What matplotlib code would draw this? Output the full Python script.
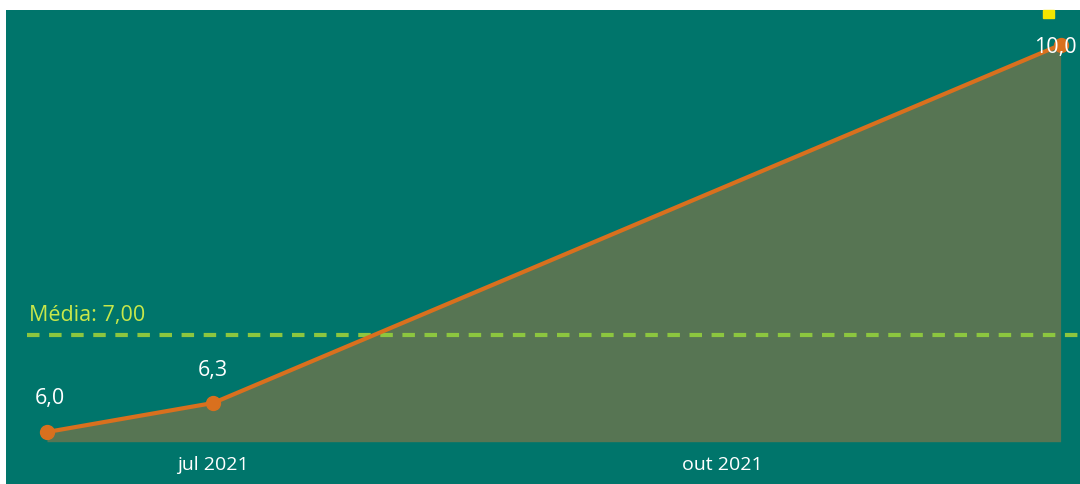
import matplotlib
matplotlib.use("Agg")
import matplotlib.pyplot as plt
import matplotlib.dates as mdates
from matplotlib.patches import Rectangle
from datetime import date

# dados
datas = [date(2021, 6, 1), date(2021, 7, 1), date(2021, 12, 1)]
valores = [6.0, 6.3, 10.0]
rotulos = ["6,0", "6,3", "10,0"]
media = 7.0
media_texto = "Média: 7,00"
ticks_datas = [date(2021, 7, 1), date(2021, 10, 1)]
ticks_rotulos = ["jul 2021", "out 2021"]

FUNDO = "#00756b"
AREA = "#577553"
LARANJA = "#d9701e"
MEDIA_COR = "#8cc63f"
MEDIA_TXT = "#c8e84a"

plt.rcParams["font.family"] = ["Open Sans", "DejaVu Sans"]

fig = plt.figure(figsize=(10.8, 4.85), dpi=100)
fig.patch.set_facecolor("white")
ax = fig.add_axes([6 / 1080, 0, 1074 / 1080, 474 / 485])
ax.set_facecolor(FUNDO)
for s in ax.spines.values():
    s.set_visible(False)

x = mdates.date2num(datas)
base = 5.9
ax.fill_between(x, valores, base, color=AREA, lw=0)
ax.plot(x, valores, color=LARANJA, lw=3, marker="o", ms=10,
        solid_capstyle="round", zorder=3)

# linha da média
ax.axhline(media, xmin=0.02, xmax=1, color=MEDIA_COR, lw=3,
           ls=(0, (3, 2.3)), zorder=2)
ax.text(0.021, media + 0.155, media_texto, color=MEDIA_TXT, fontsize=15.5,
        transform=ax.get_yaxis_transform(), ha="left", va="baseline")

# rótulos de dados
offs = [(2, 21), (0, 20), (-4, -5)]
for xi, yi, r, o in zip(x, valores, rotulos, offs):
    ax.annotate(r, (xi, yi), xytext=o, textcoords="offset points",
                ha="center", va="baseline", color="white", fontsize=15.5,
                zorder=4)

# marcador amarelo cortado no topo
fig.patches.append(Rectangle((1043 / 1080, 466 / 485), 11 / 1080, 8 / 485,
                             transform=fig.transFigure, color="#f5e600",
                             figure=fig))

ax.set_xlim(mdates.date2num(date(2021, 7, 1)) - 37.4,
            mdates.date2num(date(2021, 7, 1)) + 156.5)
ax.set_ylim(5.463, 10.36)
ax.set_yticks([])
ax.set_xticks(mdates.date2num(ticks_datas))
ax.set_xticklabels(ticks_rotulos, color="white", fontsize=14)
ax.tick_params(axis="x", length=0, pad=-21)

fig.savefig("out.png", dpi=100, facecolor="white")
